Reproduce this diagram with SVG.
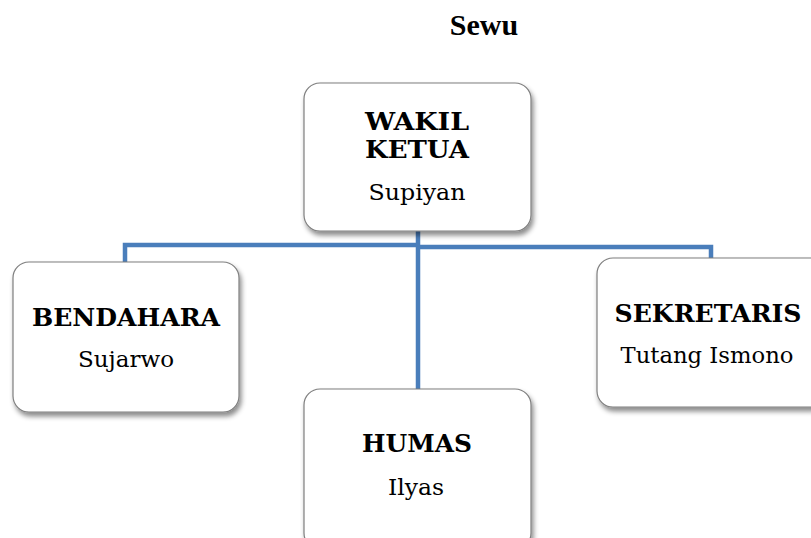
<svg xmlns="http://www.w3.org/2000/svg" width="811" height="538" viewBox="0 0 811 538">
<style>
.box{fill:#fff;stroke:#7f7f7f;stroke-width:1.2;filter:url(#sh)}
.c{fill:none;stroke:#4a7ebb;stroke-width:4.5}
.t{font-family:'DejaVu Serif',serif;font-size:24px;font-weight:bold;fill:#000;text-anchor:middle}
.n{font-family:'DejaVu Serif',serif;font-size:23px;fill:#000;text-anchor:middle}
</style>
<defs>
<filter id="sh" x="-10%" y="-10%" width="125%" height="130%">
<feDropShadow dx="2" dy="4" stdDeviation="2.5" flood-color="#000" flood-opacity="0.45"/>
</filter>
</defs>
<rect width="811" height="538" fill="#fff"/>
<text x="484" y="35" font-family="Liberation Serif, serif" font-size="30" font-weight="bold" text-anchor="middle">Sewu</text>
<g id="connectors">
<path class="c" d="M125,262 V245 H418 M418,231 V389 M418,247 H711 V258"/>
</g>
<g id="wakil">
<rect class="box" x="304" y="83" width="227" height="148" rx="16"/>
<text class="t" x="417" y="130" textLength="104" lengthAdjust="spacingAndGlyphs">WAKIL</text>
<text class="t" x="417" y="158" textLength="104" lengthAdjust="spacingAndGlyphs">KETUA</text>
<text class="n" x="417" y="200" textLength="97" lengthAdjust="spacingAndGlyphs">Supiyan</text>
</g>
<g id="bendahara">
<rect class="box" x="13" y="262" width="226" height="150" rx="16"/>
<text class="t" x="126" y="326" textLength="188" lengthAdjust="spacingAndGlyphs">BENDAHARA</text>
<text class="n" x="126" y="367" textLength="96" lengthAdjust="spacingAndGlyphs">Sujarwo</text>
</g>
<g id="sekretaris">
<rect class="box" x="597" y="258" width="230" height="149" rx="16"/>
<text class="t" x="708" y="322" textLength="187" lengthAdjust="spacingAndGlyphs">SEKRETARIS</text>
<text class="n" x="707" y="363" textLength="173" lengthAdjust="spacingAndGlyphs">Tutang Ismono</text>
</g>
<g id="humas">
<rect class="box" x="304" y="389" width="227" height="160" rx="16"/>
<text class="t" x="417" y="452" textLength="110" lengthAdjust="spacingAndGlyphs">HUMAS</text>
<text class="n" x="416" y="495" textLength="56" lengthAdjust="spacingAndGlyphs">Ilyas</text>
</g>
</svg>
